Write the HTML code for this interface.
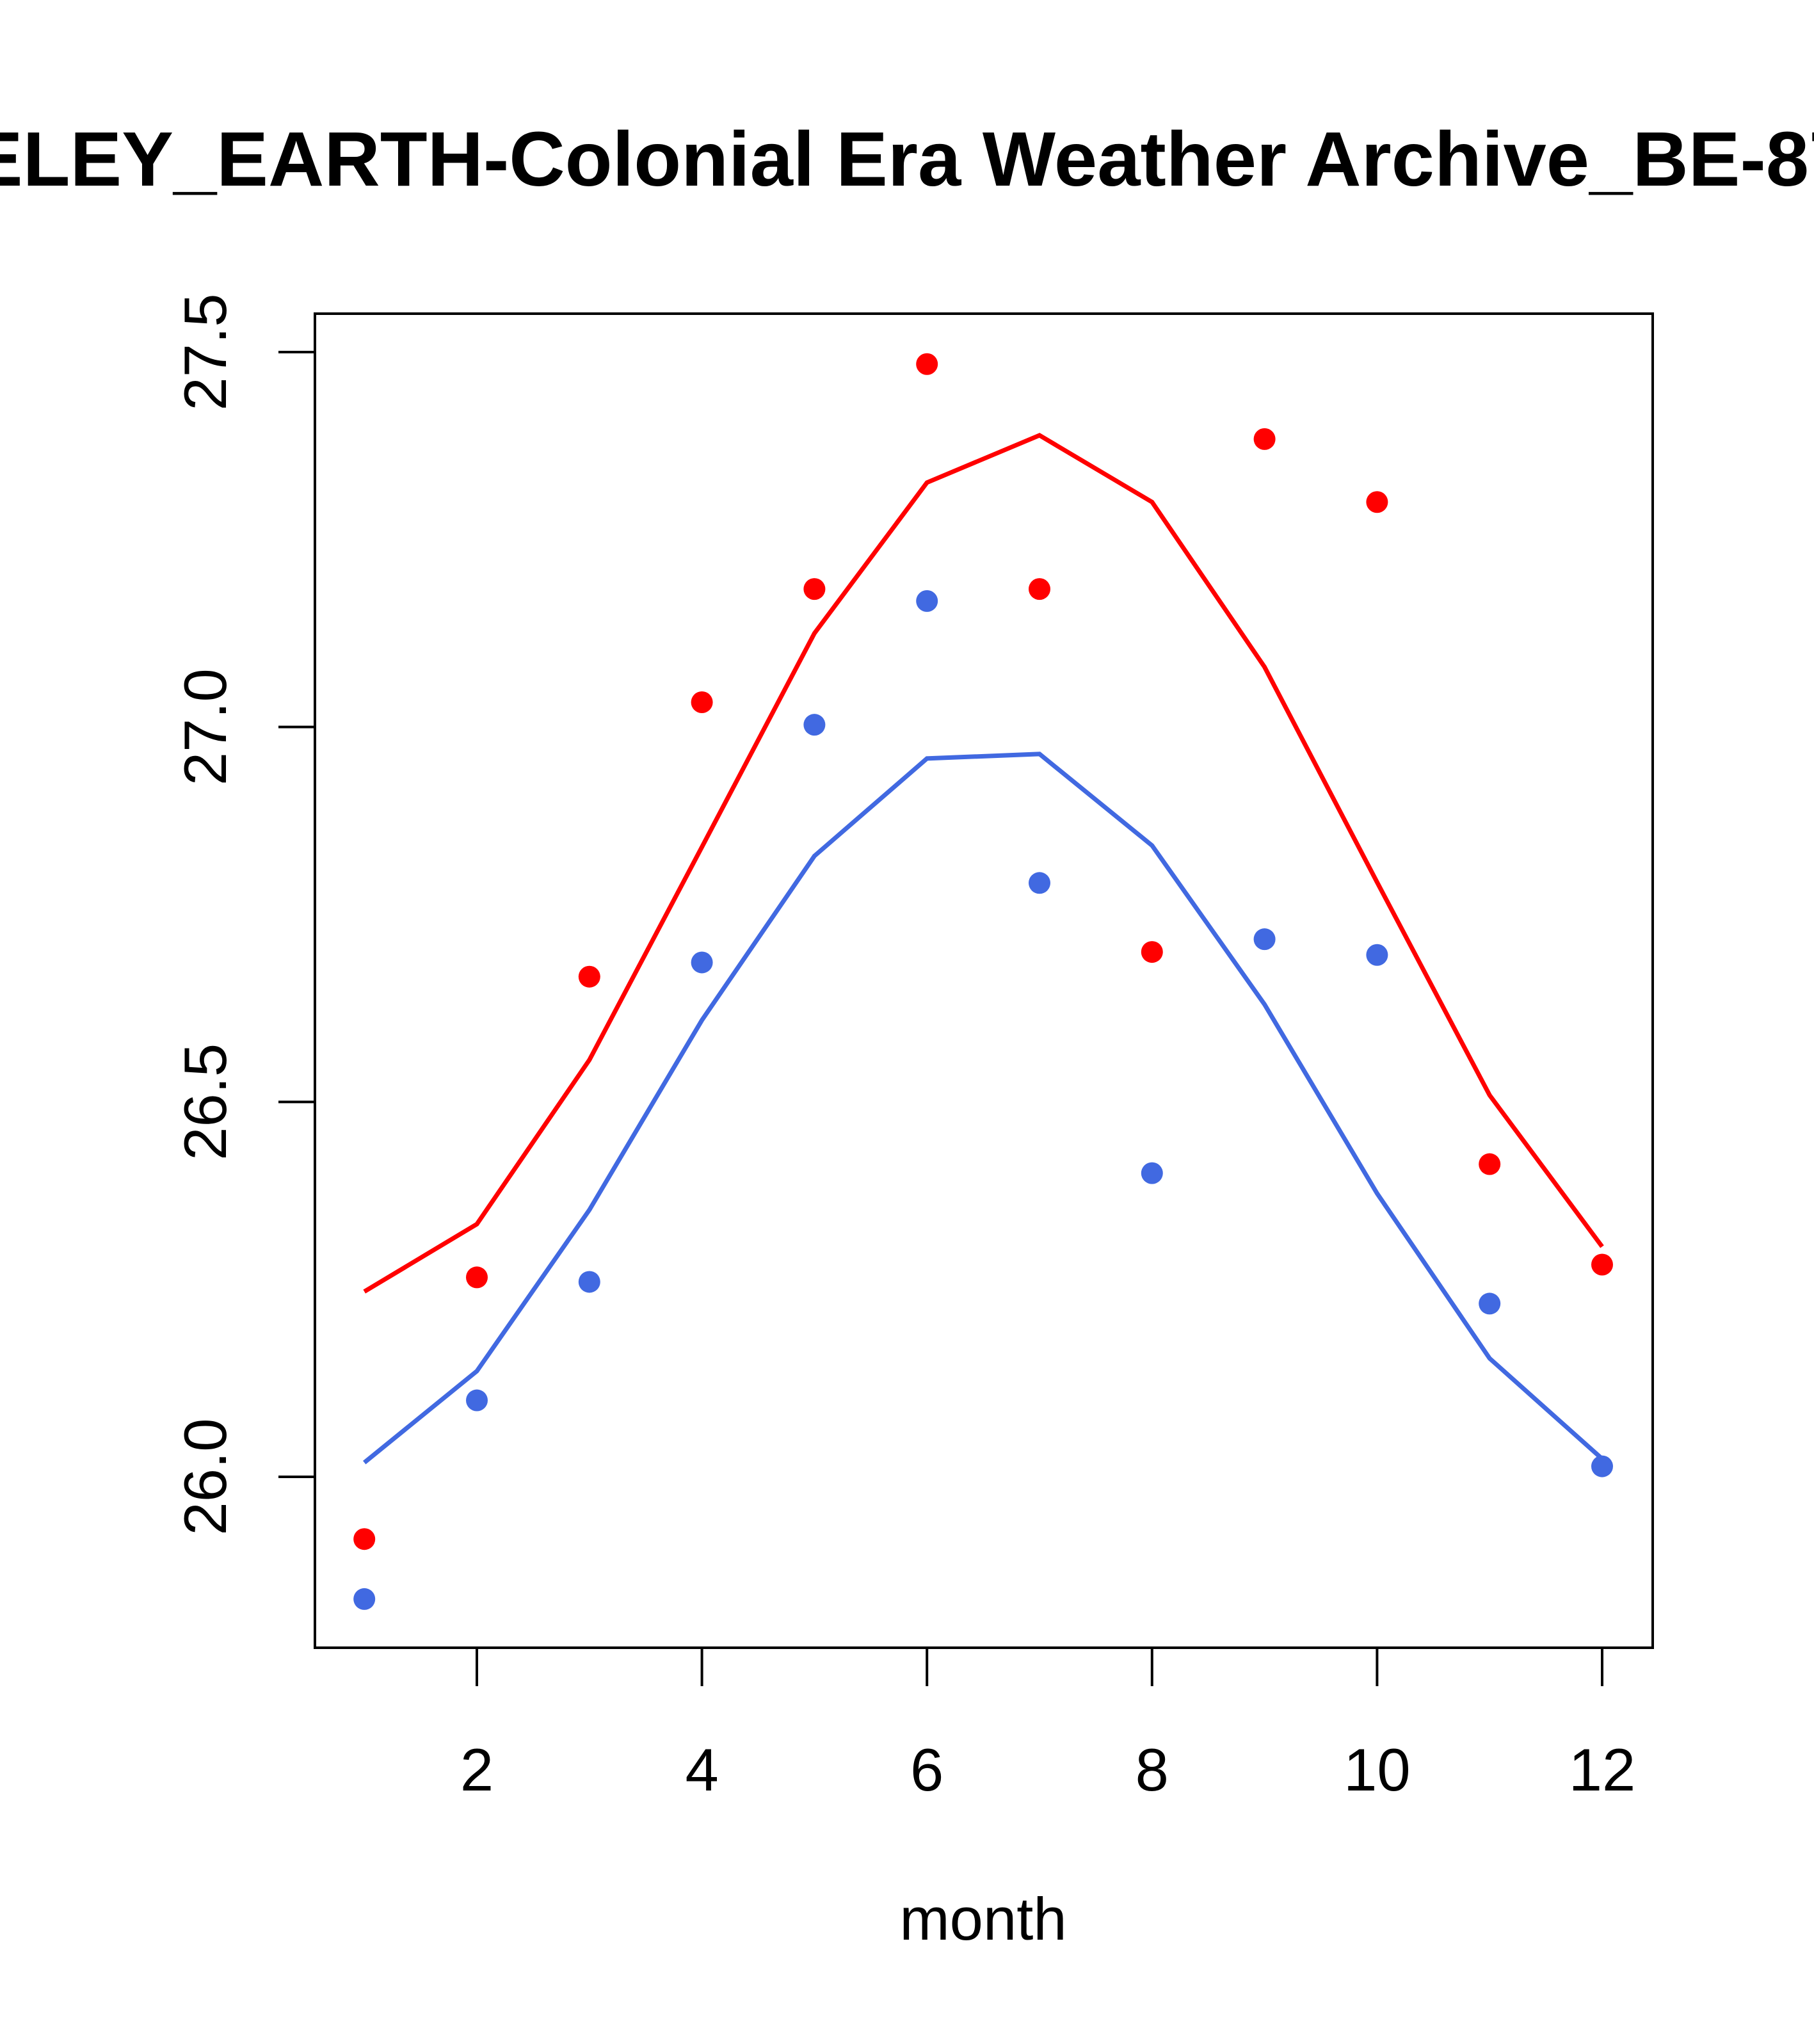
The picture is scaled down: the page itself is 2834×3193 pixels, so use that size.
<!DOCTYPE html>
<html><head><meta charset="utf-8"><style>html,body{margin:0;padding:0;background:#fff;overflow:hidden}</style></head>
<body>
<svg id="chart" width="2834" height="3188" xmlns="http://www.w3.org/2000/svg" font-family="Liberation Sans, sans-serif">
<rect width="2834" height="3188" fill="#fff"/>
<text x="1320" y="290" text-anchor="middle" font-size="121" font-weight="bold">BERKELEY_EARTH-Colonial Era Weather Archive_BE-8731</text>
<rect x="492" y="490" width="2090" height="2084" fill="none" stroke="#000" stroke-width="4"/>
<text x="1536" y="3030" text-anchor="middle" font-size="94">month</text>
<g id="axes"></g>
<g id="marks"></g>
</svg>
<script>
const months = [1,2,3,4,5,6,7,8,9,10,11,12];
const redPoints = [25.917,26.266,26.667,27.033,27.184,27.484,27.184,26.700,27.384,27.300,26.417,26.283];
const bluePoints = [25.837,26.102,26.260,26.686,27.003,27.168,26.792,26.405,26.717,26.696,26.231,26.014];
const redLine = [26.247,26.337,26.556,26.840,27.125,27.326,27.389,27.300,27.080,26.793,26.509,26.307];
const blueLine = [26.019,26.141,26.356,26.609,26.828,26.958,26.964,26.842,26.630,26.378,26.158,26.024];
const xTicks = [2,4,6,8,10,12];
const yTicks = [26.0,26.5,27.0,27.5];
const yTickLabels = ["26.0","26.5","27.0","27.5"];

const NS = "http://www.w3.org/2000/svg";
function xs(m){ return 745 + (m-2)*(2503-745)/10; }
function ys(v){ return 2307 - (v-26.0)*(2307-550)/1.5; }
function mk(tag, attrs, parent){ const e=document.createElementNS(NS,tag); for(const k in attrs) e.setAttribute(k,attrs[k]); parent.appendChild(e); return e; }
const axes=document.getElementById('axes'), marks=document.getElementById('marks');

xTicks.forEach(t=>{
  const l=mk('line',{x1:xs(t),x2:xs(t),y1:2574,y2:2634,stroke:'#000','stroke-width':4},axes);
  
  
  const tx=mk('text',{x:xs(t),y:2797,'text-anchor':'middle','font-size':94},axes);
  tx.textContent=t;
  
  
});
yTicks.forEach((t,i)=>{
  const y=ys(t);
  const l=mk('line',{x1:435,x2:492,y1:y,y2:y,stroke:'#000','stroke-width':4},axes);
  
  
  const tx=mk('text',{x:0,y:0,'text-anchor':'middle','font-size':94,transform:`translate(353,${y}) rotate(-90)`},axes);
  tx.textContent=yTickLabels[i];
  
  
});
function line(vals,color,name){
  const p=mk('polyline',{points:vals.map((v,i)=>xs(months[i])+','+ys(v)).join(' '),fill:'none',stroke:color,'stroke-width':7},marks);
  
  
}
function pts(vals,color,name){
  vals.forEach((v,i)=>{
    const c=mk('circle',{cx:xs(months[i]),cy:ys(v),r:17,fill:color},marks);
    
    
  });
}
line(redLine,'#FF0000','red-smooth-line');
line(blueLine,'#4169E1','blue-smooth-line');
pts(redPoints,'#FF0000','red-point');
pts(bluePoints,'#4169E1','blue-point');
</script>
</body></html>
